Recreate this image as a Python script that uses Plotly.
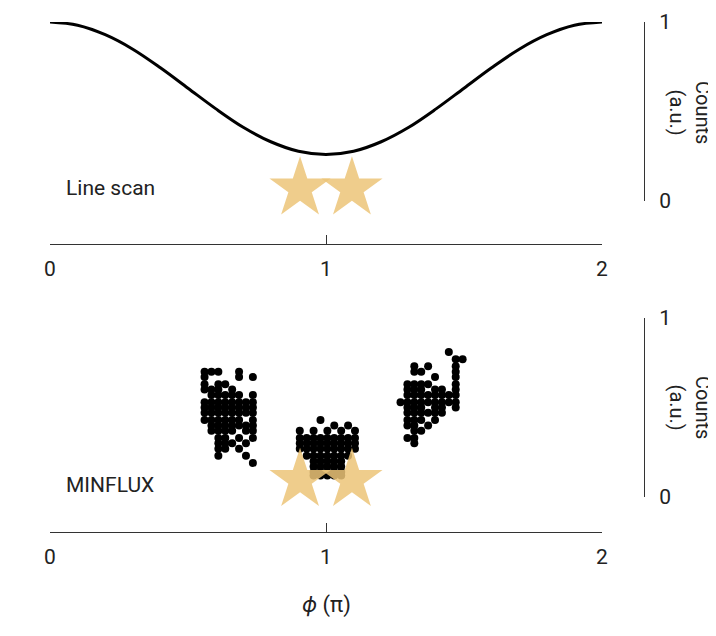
import plotly.graph_objects as go

# line scan curve (counts vs phi)
scan_phi = [0, 0.1, 0.2, 0.3, 0.4, 0.5, 0.6, 0.7, 0.8, 0.9, 1.0,
            1.1, 1.2, 1.3, 1.4, 1.5, 1.6, 1.7, 1.8, 1.9, 2.0]
scan_counts = [1.0, 0.982, 0.929, 0.848, 0.744, 0.63, 0.516, 0.412, 0.331, 0.278, 0.26,
               0.278, 0.331, 0.412, 0.516, 0.63, 0.744, 0.848, 0.929, 0.982, 1.0]

# emitter positions (stars)
star_phi = [0.906, 1.094]
star_counts_top = [0.07, 0.07]
star_counts_bot = [0.095, 0.095]

# MINFLUX clusters: rows of (counts, column indices); columns step 0.025 in phi
col_step = 0.025
left_start = 0.56
left_rows = [
    (0.70, [0, 1, 2, 5]), (0.67, [0, 5, 7]), (0.63, [0, 2, 3]), (0.60, [0, 1, 2, 4]),
    (0.57, [1, 2, 3, 4, 5, 7]), (0.53, [0, 1, 2, 3, 4, 5, 6, 7]), (0.50, [0, 1, 2, 3, 4, 5, 6, 7]),
    (0.47, [0, 1, 2, 3, 4, 5, 6, 7]), (0.43, [0, 1, 2, 3, 4, 5, 7]), (0.40, [1, 2, 3, 4, 5, 6, 7]),
    (0.37, [1, 2, 3, 4, 6, 7]), (0.33, [2, 3, 5, 7]), (0.30, [2, 3, 4, 6]), (0.27, [2, 3, 5]),
    (0.23, [2, 6]), (0.19, [7]),
]
mid_start = 0.88
mid_rows = [
    (0.43, [4]), (0.40, [6, 8]), (0.37, [1, 3, 5, 7, 9]), (0.33, [1, 2, 3, 4, 5, 6, 7, 8, 9]),
    (0.30, [1, 2, 3, 4, 5, 6, 7, 8, 9]), (0.27, [1, 2, 3, 4, 5, 6, 7, 8, 9]),
    (0.23, [2, 3, 4, 5, 6, 7, 8]), (0.20, [3, 4, 5, 6, 7]), (0.17, [3, 4, 5, 6, 7]),
    (0.14, [3, 4, 5, 6, 7]), (0.12, [3, 4, 5, 6, 7]),
]
right_start = 1.27
right_rows = [
    (0.81, [7]), (0.77, [8, 9]), (0.73, [2, 4, 8]), (0.70, [2, 3, 8]), (0.67, [5, 8]),
    (0.63, [1, 2, 3, 4, 8]), (0.60, [1, 2, 3, 5, 6, 8]), (0.57, [1, 2, 3, 4, 5, 6, 7, 8]),
    (0.53, [0, 1, 2, 3, 4, 5, 6, 7, 8]), (0.50, [1, 2, 3, 5, 6, 8]), (0.47, [1, 2, 3, 4, 5, 6]),
    (0.43, [1, 2, 3, 5]), (0.40, [1, 2, 4]), (0.37, [2, 3]), (0.33, [1, 2]), (0.30, [2]),
]

mf_phi, mf_counts = [], []
for start, rows in [(left_start, left_rows), (mid_start, mid_rows), (right_start, right_rows)]:
    for c, cols in rows:
        for i in cols:
            mf_phi.append(start + i * col_step)
            mf_counts.append(c)

FONT = "Roboto, Inter, Arial, sans-serif"
AX = "#333333"
STAR = "rgba(236,196,120,0.85)"
W, H, OFF = 716, 636, 8  # page offset of the plot div


def px(x):
    return (x - OFF) / W


def py(y):
    return 1 - (y - OFF) / H


fig = go.Figure()
fig.add_trace(go.Scatter(x=scan_phi, y=scan_counts, mode="lines", line=dict(color="black", width=3, shape="spline"),
                         xaxis="x", yaxis="y", cliponaxis=False))
fig.add_trace(go.Scatter(x=star_phi, y=star_counts_top, mode="markers",
                         marker=dict(symbol="star", size=46, color=STAR), xaxis="x", yaxis="y", cliponaxis=False))
fig.add_trace(go.Scatter(x=mf_phi, y=mf_counts, mode="markers",
                         marker=dict(size=8, color="black"), xaxis="x2", yaxis="y2", cliponaxis=False))
fig.add_trace(go.Scatter(x=star_phi, y=star_counts_bot, mode="markers",
                         marker=dict(symbol="star", size=46, color=STAR), xaxis="x2", yaxis="y2", cliponaxis=False))

xcommon = dict(range=[0, 2], domain=[px(50), px(602)], tickvals=[0, 1, 2], ticks="inside", ticklen=9,
               tickcolor=AX, showline=True, linecolor=AX, linewidth=1, showgrid=False, zeroline=False,
               automargin=False, tickfont=dict(size=21, color="#222"), anchor="free", ticklabelstandoff=6)
ycommon = dict(range=[0, 1], tickvals=[0, 1], ticks="inside", ticklen=12, tickcolor=AX, side="right",
               showline=True, linecolor=AX, linewidth=1, showgrid=False, zeroline=False, automargin=False,
               tickfont=dict(size=21, color="#222"), anchor="free", position=px(644), ticklabelstandoff=10)

fig.update_layout(
    width=W, height=H, margin=dict(l=0, r=0, t=0, b=0),
    paper_bgcolor="white", plot_bgcolor="white", showlegend=False,
    font=dict(family=FONT, color="#222"),
    xaxis=dict(**xcommon, position=py(244)),
    yaxis=dict(**ycommon, domain=[py(201), py(22)]),
    xaxis2=dict(**xcommon, position=py(532)),
    yaxis2=dict(**ycommon, domain=[py(497), py(318)]),
)
for txt, ypx in [("Line scan", 188), ("MINFLUX", 485)]:
    fig.add_annotation(text=txt, x=px(64), y=py(ypx), xref="paper", yref="paper",
                       xanchor="left", yanchor="middle", showarrow=False, font=dict(size=21, color="#222"))
for ypx in [112, 407]:
    fig.add_annotation(text="Counts<br>(a.u.)", x=px(690), y=py(ypx), xref="paper", yref="paper",
                       xanchor="center", yanchor="middle", showarrow=False, textangle=90,
                       font=dict(size=20, color="#222"))
fig.add_annotation(text="<i>ϕ</i> (π)", x=px(326), y=py(605), xref="paper", yref="paper",
                   xanchor="center", yanchor="middle", showarrow=False, font=dict(size=22, color="#222"))

fig.write_html("out.html")
